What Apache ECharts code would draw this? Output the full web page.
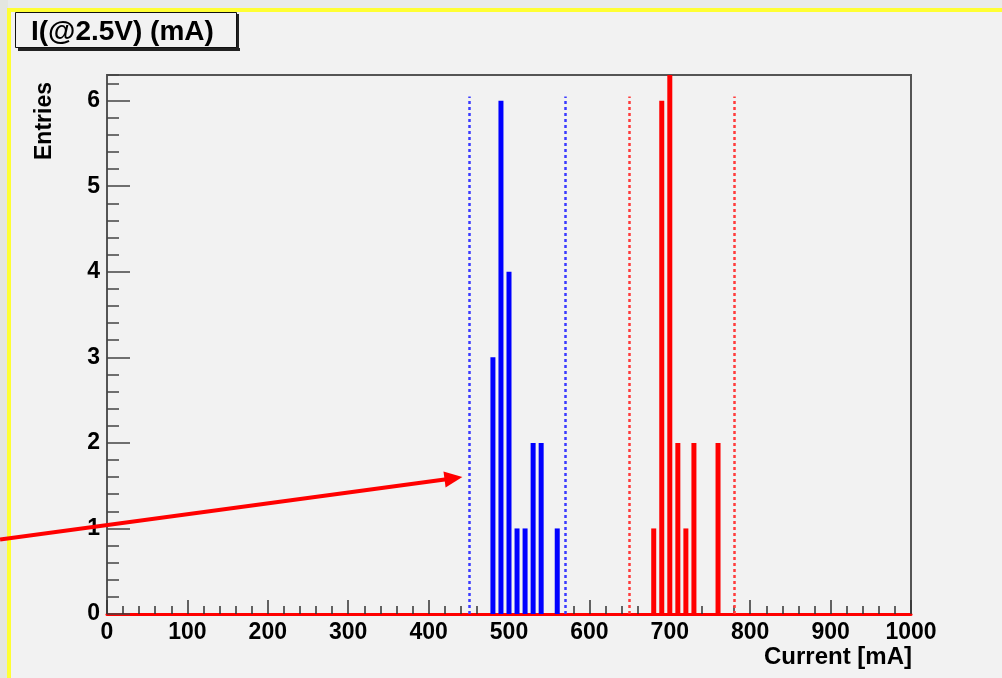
<!DOCTYPE html>
<html>
<head>
<meta charset="utf-8">
<script src="https://cdn.jsdelivr.net/npm/echarts@6/dist/echarts.min.js"></script>
<style>
html,body{margin:0;padding:0;background:#e6e8e5;}
#Charts1{width:1002px;height:678px;}
</style>
</head>
<body>
<div id="Charts1"></div>
<script>
// histogram bins (bin centre in mA) and entries
var blueX = [480, 490, 500, 510, 520, 530, 540, 560];
var blueY = [3, 6, 4, 1, 1, 2, 2, 1];
var redX = [680, 690, 700, 710, 720, 730, 760];
var redY = [1, 6, 7, 2, 1, 2, 2];
// dotted cut lines
var blueCuts = [450, 570];
var redCuts = [650, 780];
var cutTop = 6.05;
// arrow (data coords)
var arrowFrom = [-133, 0.87];
var arrowTo = [442, 1.6];
var titleText = 'I(@2.5V) (mA)';
var xTitle = 'Current [mA]';
var yTitle = 'Entries';

var FONT = '"Liberation Sans", Arial, sans-serif';
var myChart = echarts.init(document.getElementById('Charts1'));

function pairs(xs, ys){
	var out = [];
	for (var i = 0; i < xs.length; i++) out.push([xs[i], ys[i]]);
	return out;
}
function cutLines(xs){
	return xs.map(function(v){ return [{coord:[v, 0]}, {coord:[v, cutTop]}]; });
}

var bgGraphics = [
	{id:'topStrip', type:'rect', shape:{x:0,y:0,width:1002,height:8}, style:{fill:'#e9ebea'}, z:-10},
	{id:'leftStrip', type:'rect', shape:{x:0,y:0,width:8,height:678}, style:{fill:'#e4e6e0'}, z:-10},
	{id:'inner', type:'rect', shape:{x:8,y:8,width:994,height:670}, style:{fill:'#f2f2f2'}, z:-10},
	{id:'yelTop', type:'rect', shape:{x:8,y:8,width:994,height:4}, style:{fill:'#ffff33'}, z:-9},
	{id:'yelLeft', type:'rect', shape:{x:7,y:8,width:4,height:670}, style:{fill:'#ffff33'}, z:-9},
	// title box with shadow
	{id:'tShadowB', type:'rect', shape:{x:18,y:48,width:222,height:3}, style:{fill:'#222'}},
	{id:'tShadowR', type:'rect', shape:{x:236,y:14,width:3,height:37}, style:{fill:'#222'}},
	{id:'tBox', type:'rect', shape:{x:15.5,y:12.5,width:221,height:35}, style:{fill:'#f2f2f2', stroke:'#111', lineWidth:1}},
	{id:'tText', type:'text', x:31, y:32, style:{text:titleText, font:'bold 28px ' + FONT, fill:'#000', textVerticalAlign:'middle'}},
	{id:'yName', type:'text', x:45, y:121, rotation:Math.PI/2, style:{text:yTitle, font:'bold 23px ' + FONT, fill:'#000', textAlign:'center', textVerticalAlign:'middle'}},
	{id:'xName', type:'text', x:912, y:657, style:{text:xTitle, font:'bold 24px ' + FONT, fill:'#000', textAlign:'right', textVerticalAlign:'middle'}}
];

var option = {
	backgroundColor:'#f2f2f2',
	animation:false,
	grid:{left:107, right:91, top:75, bottom:64, show:true, borderColor:'#555', borderWidth:2, backgroundColor:'#f2f2f2'},
	xAxis:{
		type:'value', min:0, max:1000, interval:100,
		axisLine:{lineStyle:{color:'#ff0000', width:3}},
		axisTick:{inside:true, length:14, lineStyle:{color:'#333', width:1.5}},
		minorTick:{show:true, splitNumber:5, length:8, lineStyle:{color:'#333', width:1.5}},
		axisLabel:{margin:7, color:'#000', fontWeight:'bold', fontSize:23, fontFamily:FONT,
			formatter:function(v){ return String(v); }},
		splitLine:{show:false}
	},
	yAxis:[
		{
			type:'value', min:0, max:6.3, interval:1,
			axisLine:{show:true, lineStyle:{color:'#555', width:2}},
			axisTick:{inside:true, length:23, lineStyle:{color:'#444', width:1.5}},
			axisLabel:{margin:7, color:'#000', fontWeight:'bold', fontSize:23, fontFamily:FONT, showMaxLabel:false},
			splitLine:{show:false}
		},
		{
			type:'value', min:0, max:6.3, interval:0.2, position:'left',
			axisLine:{show:false},
			axisTick:{inside:true, length:12, lineStyle:{color:'#444', width:1.5}},
			axisLabel:{show:false},
			splitLine:{show:false}
		}
	],
	graphic: bgGraphics,
	series:[
		{
			name:'blue', type:'bar', barWidth:5, barGap:'-100%',
			data:pairs(blueX, blueY),
			itemStyle:{color:'#0000ff'},
			markLine:{silent:true, symbol:'none', label:{show:false},
				lineStyle:{color:'#3b3bff', type:[3,3], width:2.5},
				emphasis:{disabled:true},
				data:cutLines(blueCuts)}
		},
		{
			name:'red', type:'bar', barWidth:5, barGap:'-100%',
			data:pairs(redX, redY),
			itemStyle:{color:'#ff0000'},
			markLine:{silent:true, symbol:'none', label:{show:false},
				lineStyle:{color:'#ff3b3b', type:[3,3], width:2.5},
				emphasis:{disabled:true},
				data:cutLines(redCuts)}
		}
	]
};
myChart.setOption(option);

// red arrow, positioned through the axes
var p0 = myChart.convertToPixel({xAxisIndex:0, yAxisIndex:0}, arrowFrom);
var p1 = myChart.convertToPixel({xAxisIndex:0, yAxisIndex:0}, arrowTo);
var dx = p1[0] - p0[0], dy = p1[1] - p0[1];
var len = Math.sqrt(dx*dx + dy*dy);
var ux = dx/len, uy = dy/len;
var L = 18, W = 8;
var bx = p1[0] - ux*L, by = p1[1] - uy*L;
myChart.setOption({graphic:[
	{id:'arrowLine', type:'line', shape:{x1:p0[0], y1:p0[1], x2:bx + ux*2, y2:by + uy*2}, style:{stroke:'#ff0000', lineWidth:4}, z:20},
	{id:'arrowHead', type:'polygon', shape:{points:[[p1[0], p1[1]], [bx - uy*W, by + ux*W], [bx + uy*W, by - ux*W]]}, style:{fill:'#ff0000'}, z:20}
]});
</script>
</body>
</html>
